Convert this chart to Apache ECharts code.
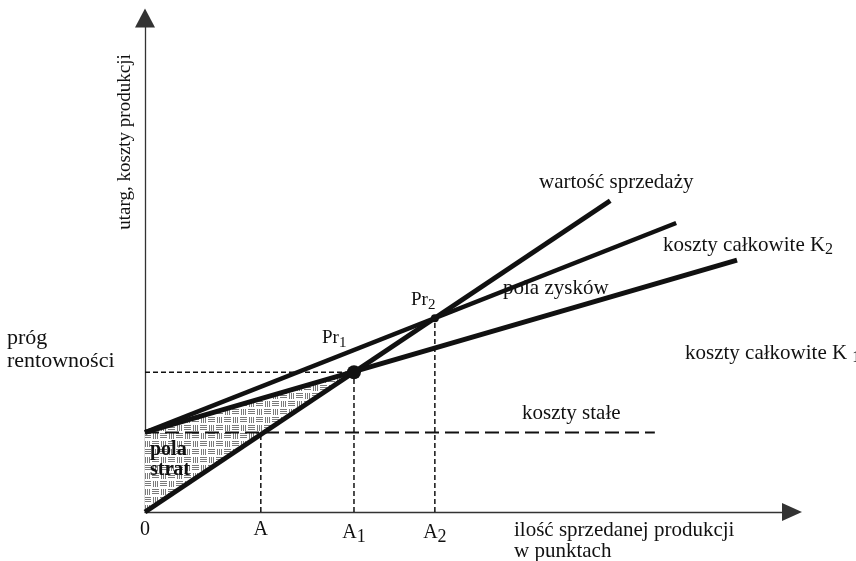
<!DOCTYPE html>
<html>
<head>
<meta charset="utf-8">
<script src="https://cdn.jsdelivr.net/npm/echarts@6/dist/echarts.min.js"></script>
<style>
  html, body { margin: 0; padding: 0; background: #fff; }
  #chart { width: 856px; height: 561px; }
</style>
</head>
<body>
<div id="chart"></div>
<script>
// break-even chart, both axes run 0..100 in arbitrary units
const fixedCost = 16.1;
const salesLine = [[0, 0], [71.9, 63.0]];
const totalCostK2 = [[0, fixedCost], [82.1, 58.5]];
const totalCostK1 = [[0, fixedCost], [91.5, 51.0]];
const fixedCostLine = [[0, fixedCost], [78.8, fixedCost]];
const breakEven1 = [32.3, 28.3];
const breakEven2 = [44.8, 39.2];
const pointA = 17.9;
const tickValues = [0, pointA, breakEven1[0], breakEven2[0]];
const tickLabels = ['0', 'A', 'A{s|1}', 'A{s|2}'];

const serif = '"Liberation Serif", "DejaVu Serif", serif';
const ink = '#111';

// hatch for "pola strat": blocks of horizontal and vertical strokes
function makeHatch(){
  const c = document.createElement('canvas');
  c.width = 16; c.height = 16;
  const g = c.getContext('2d');
  g.fillStyle = '#fff';
  g.fillRect(0, 0, 16, 16);
  g.fillStyle = '#7a7a7a';
  for(let i = 0; i < 3; i++){
    g.fillRect(0, 1 + i * 2, 7, 1);
    g.fillRect(8, 9 + i * 2, 7, 1);
    g.fillRect(9 + i * 2, 1, 1, 6);
    g.fillRect(1 + i * 2, 9, 1, 6);
  }
  return c;
}
const hatch = makeHatch();

const lossArea = [[0, fixedCost], breakEven1, [0, 0]];

const thick = (data, w) => ({
  type: 'line', data, symbol: 'none', silent: true, z: 4,
  lineStyle: { color: ink, width: w, cap: 'butt' }
});
const dashed = (data, w, pattern) => ({
  type: 'line', data, symbol: 'none', silent: true, z: 3,
  lineStyle: { color: ink, width: w, type: pattern }
});
const dot = (p, size) => ({
  type: 'scatter', silent: true, z: 5,
  data: [p], symbolSize: size,
  itemStyle: { color: ink, opacity: 1 }
});

const sub = { fontFamily: serif, color: ink, verticalAlign: 'bottom', lineHeight: 26 };

const txt = (x, y, text, size, extra, rotation) => ({
  type: 'text', x, y, z: 100, silent: true,
  rotation: rotation || 0,
  style: Object.assign({
    text, fontSize: size, fontFamily: serif, fill: ink,
    align: 'left', verticalAlign: 'middle',
    rich: { s: Object.assign({}, sub, { fontSize: Math.round(size * 0.78) }) }
  }, extra || {})
});

const chart = echarts.init(document.getElementById('chart'));
chart.setOption({
  backgroundColor: '#fff',
  animation: false,
  grid: { left: 145, right: 64, top: 18, bottom: 49 },
  xAxis: {
    type: 'value', min: 0, max: 100,
    axisLine: { show: true, symbol: ['none', 'triangle'], symbolSize: [18, 20],
      lineStyle: { color: '#333', width: 1.3 } },
    splitLine: { show: false },
    axisTick: { show: false },
    axisLabel: {
      customValues: tickValues,
      margin: 8,
      fontSize: 20, fontFamily: serif, color: ink,
      formatter: (v) => {
        const i = tickValues.indexOf(v);
        return i < 0 ? '' : tickLabels[i];
      },
      rich: { s: Object.assign({}, sub, { fontSize: 18 }) }
    }
  },
  yAxis: {
    type: 'value', min: 0, max: 100,
    axisLine: { show: true, symbol: ['none', 'triangle'], symbolSize: [20, 19],
      lineStyle: { color: '#333', width: 1.3 } },
    splitLine: { show: false },
    axisTick: { show: false },
    axisLabel: { show: false }
  },
  graphic: [
    txt(125, 142, 'utarg, koszty produkcji', 19, { align: 'center' }, Math.PI / 2),
    txt(7, 338, 'próg', 22),
    txt(7, 361, 'rentowności', 22),
    txt(322, 338, 'Pr{s|1}', 19),
    txt(411, 300, 'Pr{s|2}', 19),
    txt(539, 182, 'wartość sprzedaży', 21),
    txt(663, 245, 'koszty całkowite K{s|2}', 21),
    txt(503, 288, 'pola zysków', 21),
    txt(685, 353, 'koszty całkowite K {s|1}', 21),
    txt(522, 413, 'koszty stałe', 21),
    txt(514, 530, 'ilość sprzedanej produkcji', 21),
    txt(514, 551, 'w punktach', 21),
    txt(150, 450, 'pola', 20, { fontWeight: 'bold' }),
    txt(150, 470, 'strat', 20, { fontWeight: 'bold' })
  ],
  series: [
    {
      type: 'custom', silent: true, z: 1,
      data: [0],
      renderItem: (params, api) => ({
        type: 'polygon',
        shape: { points: lossArea.map(p => api.coord(p)) },
        style: { fill: { image: hatch, repeat: 'repeat' } }
      })
    },
    dashed(fixedCostLine, 2, [14, 6]),
    dashed([[0, breakEven1[1]], breakEven1], 1.5, [5, 3]),
    dashed([[pointA, 0], [pointA, fixedCost]], 1.5, [5, 3]),
    dashed([[breakEven1[0], 0], breakEven1], 1.5, [5, 3]),
    dashed([[breakEven2[0], 0], breakEven2], 1.5, [5, 3]),
    thick(salesLine, 5),
    thick(totalCostK2, 4.5),
    thick(totalCostK1, 5),
    dot(breakEven1, 14),
    dot(breakEven2, 8)
  ]
});
</script>
</body>
</html>
